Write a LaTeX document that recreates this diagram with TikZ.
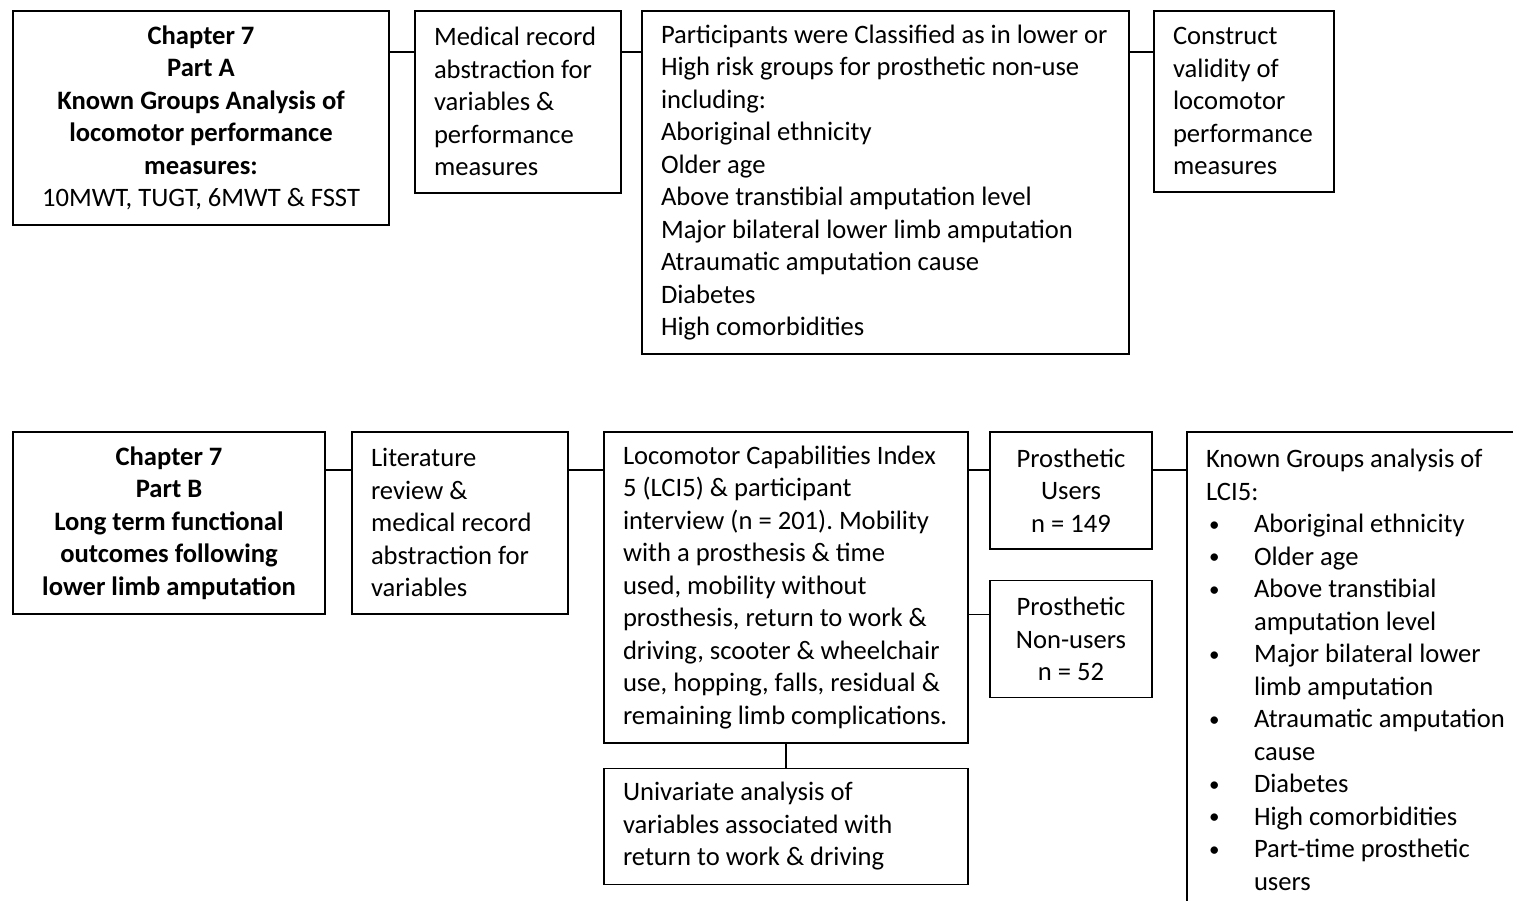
\documentclass[tikz,border=0pt]{standalone}
\usepackage{fontspec}
\setmainfont{Carlito}
\usepackage{tikz}
\usetikzlibrary{positioning,calc}
\definecolor{cnegro}{HTML}{000000}
\frenchspacing
\newcommand{\cuerpo}{\fontsize{13.3pt}{16.25pt}\selectfont}
\newcommand{\vin}{\makebox[24pt][l]{\hspace{1.5pt}\raisebox{0.8pt}{\fontsize{10.5pt}{10pt}\selectfont •}}}
\newcommand{\sig}{\hspace*{24pt}}
\tikzset{
  caja/.style={rectangle, draw=cnegro, line width=0.8pt, inner xsep=9.6pt,
    inner ysep=0pt, outer sep=0pt, align=flush left, font=\cuerpo},
  cajac/.style={caja, align=flush center},
  linea/.style={draw=cnegro, line width=0.8pt},
}

\begin{document}
\begin{tikzpicture}[x=1pt,y=1pt]
  \useasboundingbox (0,0) rectangle (756.5,-450);
  \clip (0,0) rectangle (756.5,-450);
  % Part A
  \node[cajac, text width=169pt, minimum height=107pt, anchor=north west] (a1) at (6.4,-5.4)
    {\textbf{Chapter 7}\\\textbf{Part A}\\\textbf{Known Groups Analysis of}\\
     \textbf{locomotor performance}\\\textbf{measures:}\\10MWT, TUGT, 6MWT \& FSST};
  \node[caja, right=12.8pt of a1.north east, anchor=north west, text width=84pt, minimum height=91pt] (a2)
    {Medical record\\abstraction for\\variables \&\\performance\\measures};
  \node[caja, right=10.3pt of a2.north east, anchor=north west, text width=224.5pt, minimum height=171.5pt] (a3)
    {Participants were Classified as in lower or\\High risk groups for prosthetic non-use\\including:\\
     Aboriginal ethnicity\\Older age\\Above transtibial amputation level\\
     Major bilateral lower limb amputation\\Atraumatic amputation cause\\Diabetes\\High comorbidities};
  \node[caja, right=12.3pt of a3.north east, anchor=north west, text width=71pt, minimum height=90.5pt] (a4)
    {Construct\\validity of\\locomotor\\performance\\measures};
  \draw[linea] ([yshift=-20.5pt]a1.north east) -- ([yshift=-20.5pt]a2.north west);
  \draw[linea] ([yshift=-20.5pt]a2.north east) -- ([yshift=-20.5pt]a3.north west);
  \draw[linea] ([yshift=-20.5pt]a3.north east) -- ([yshift=-20.5pt]a4.north west);
  % Part B
  \node[cajac, text width=137pt, minimum height=91pt, anchor=north west] (b1) at (6.4,-215.9)
    {\textbf{Chapter 7}\\\textbf{Part B}\\\textbf{Long term functional}\\
     \textbf{outcomes following}\\\textbf{lower limb amputation}};
  \node[caja, right=13.3pt of b1.north east, anchor=north west, text width=89pt, minimum height=91pt] (b2)
    {Literature\\review \&\\medical record\\abstraction for\\variables};
  \node[caja, right=17.8pt of b2.north east, anchor=north west, text width=163pt, minimum height=155.5pt] (b3)
    {Locomotor Capabilities Index\\5 (LCI5) \& participant\\interview (n = 201). Mobility\\
     with a prosthesis \& time\\used, mobility without\\prosthesis, return to work \&\\
     driving, scooter \& wheelchair\\use, hopping, falls, residual \&\\remaining limb complications.};
  \node[cajac, right=10.8pt of b3.north east, anchor=north west, text width=62pt, minimum height=58.5pt] (b4)
    {Prosthetic\\Users\\n = 149};
  \node[cajac, below=15.8pt of b4.south, anchor=north, text width=62pt, minimum height=58.5pt] (b5)
    {Prosthetic\\Non-users\\n = 52};
  \node[caja, right=17.3pt of b4.north east, anchor=north west, text width=180pt, minimum height=238pt] (b6)
    {Known Groups analysis of\\LCI5:\\
     \vin Aboriginal ethnicity\\\vin Older age\\\vin Above transtibial\\\sig amputation level\\
     \vin Major bilateral lower\\\sig limb amputation\\\vin Atraumatic amputation\\\sig cause\\
     \vin Diabetes\\\vin High comorbidities\\\vin Part-time prosthetic\\\sig users};
  \node[caja, below=12.8pt of b3.south, anchor=north, text width=163pt, minimum height=58pt] (b7)
    {Univariate analysis of\\variables associated with\\return to work \& driving};
  \coordinate (c5) at ([yshift=-17pt]b5.north west);
  \coordinate (c6) at ([yshift=-19pt]b4.north east);
  \draw[linea] ([yshift=-19pt]b1.north east) -- ([yshift=-19pt]b2.north west);
  \draw[linea] ([yshift=-19pt]b2.north east) -- ([yshift=-19pt]b3.north west);
  \draw[linea] ([yshift=-19pt]b3.north east) -- ([yshift=-19pt]b4.north west);
  \draw[linea] (b3.east |- c5) -- (c5);
  \draw[linea] (c6) -- (b6.west |- c6);
  \draw[linea] (b3.south) -- (b7.north);
\end{tikzpicture}
\end{document}
